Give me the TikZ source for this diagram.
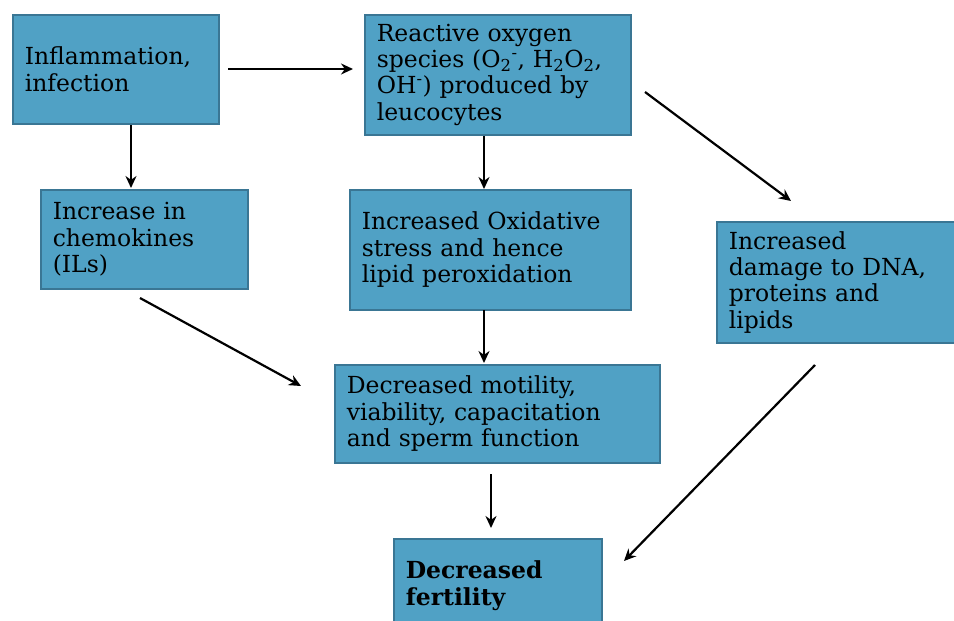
\documentclass[tikz,border=0pt]{standalone}
\usepackage{fontspec}
\setmainfont{DejaVu Serif}
\usetikzlibrary{arrows.meta}
\definecolor{boxfill}{RGB}{80,161,197}
\definecolor{boxline}{RGB}{58,118,148}
\begin{document}
\begin{tikzpicture}[x=1pt,y=-1pt,
  box/.style={draw=boxline,line width=1.5pt,fill=boxfill,anchor=north west,
    inner xsep=12pt,inner ysep=0pt,align=left,
    font=\fontsize{23.5}{26.4}\selectfont,text=black},
  arr/.style={line width=2.2pt,-{Stealth[length=12pt,width=11pt]}}]
\useasboundingbox (0,0) rectangle (954,621);
\fill[white] (0,0) rectangle (954,621);
\node[box,minimum width=206pt,minimum height=109pt,text width=182pt] (infl) at (12,14)
  {Inflammation,\\infection};
\node[box,minimum width=266pt,minimum height=120pt,text width=242pt] (ros) at (364,14)
  {Reactive oxygen\\species (O\textsubscript{2}\textsuperscript{-}, H\textsubscript{2}O\textsubscript{2},\\OH\textsuperscript{-}) produced by\\leucocytes};
\node[box,minimum width=207pt,minimum height=99pt,text width=183pt] (chem) at (40,189)
  {Increase in\\chemokines\\(ILs)};
\node[box,minimum width=281pt,minimum height=120pt,text width=257pt] (oxi) at (349,189)
  {Increased Oxidative\\stress and hence\\lipid peroxidation};
\node[box,minimum width=250pt,minimum height=121pt,text width=226pt] (dam) at (716,221)
  {Increased\\damage to DNA,\\proteins and\\lipids};
\node[box,minimum width=325pt,minimum height=98pt,text width=301pt] (mot) at (334,364)
  {Decreased motility,\\viability, capacitation\\and sperm function};
\node[box,minimum width=208pt,minimum height=94pt,text width=184pt,font=\fontsize{23.5}{26.4}\selectfont\bfseries] (fert) at (393,538)
  {Decreased\\fertility};
% connector end points
\coordinate (a1) at (228,69);   \coordinate (a2) at (353,69);
\coordinate (b1) at (131,125);  \coordinate (b2) at (131,188);
\coordinate (c1) at (484,136);  \coordinate (c2) at (484,189);
\coordinate (d1) at (645,92);   \coordinate (d2) at (791,201);
\coordinate (e1) at (140,298);  \coordinate (e2) at (301,386);
\coordinate (f1) at (484,310);  \coordinate (f2) at (484,363);
\coordinate (g1) at (491,474);  \coordinate (g2) at (491,528);
\coordinate (h1) at (815,365);  \coordinate (h2) at (624,561);
\draw[arr] (a1) -- (a2);
\draw[arr] (b1) -- (b2);
\draw[arr] (c1) -- (c2);
\draw[arr] (d1) -- (d2);
\draw[arr] (e1) -- (e2);
\draw[arr] (f1) -- (f2);
\draw[arr] (g1) -- (g2);
\draw[arr] (h1) -- (h2);
\end{tikzpicture}
\end{document}
